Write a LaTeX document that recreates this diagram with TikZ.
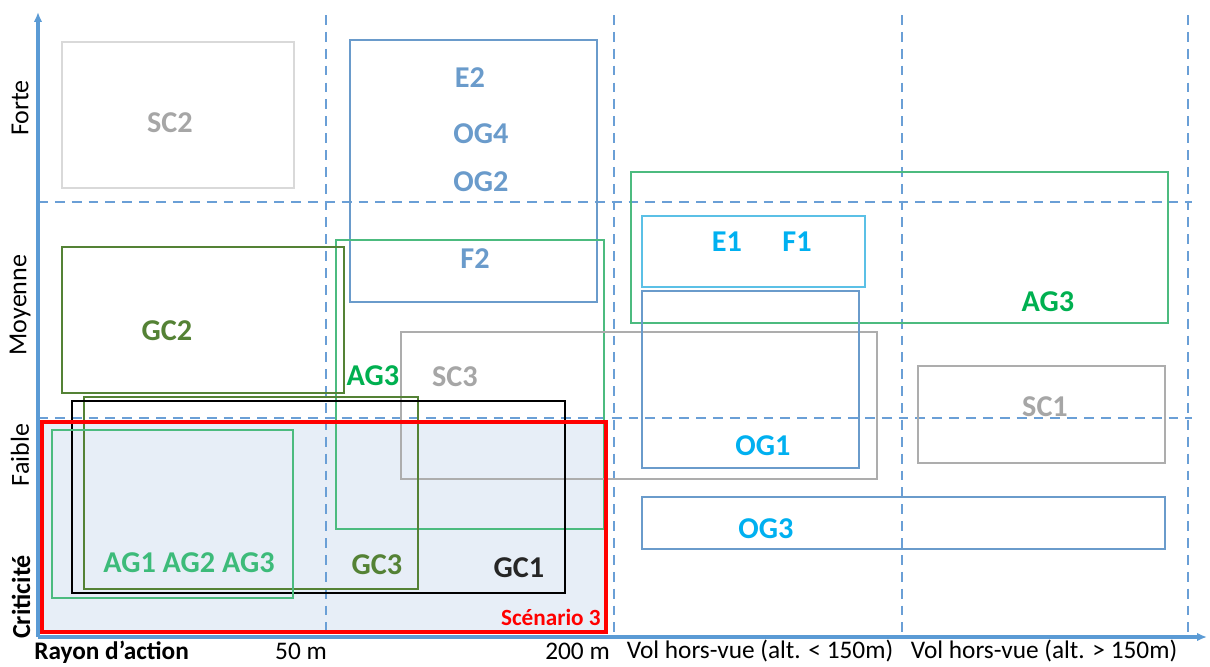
\documentclass[tikz,border=0pt]{standalone}
\usepackage{fontspec}
\setmainfont{Carlito}
\usetikzlibrary{arrows.meta}
\definecolor{AxisBlue}{HTML}{5B9BD5}
\definecolor{GridBlue}{HTML}{6A9FD6}
\definecolor{BoxBlue}{HTML}{6A9BCB}
\definecolor{SkyBlue}{HTML}{00B0F0}
\definecolor{SkyLine}{HTML}{5BC0E6}
\definecolor{LightGrey}{HTML}{D9D9D9}
\definecolor{MidGrey}{HTML}{ADADAD}
\definecolor{TextGrey}{HTML}{A6A6A6}
\definecolor{Olive}{HTML}{548235}
\definecolor{Mint}{HTML}{4CBB7F}
\definecolor{MintText}{HTML}{3DBB7A}
\definecolor{Leaf}{HTML}{00B050}
\definecolor{ScenRed}{HTML}{FF0000}
\definecolor{ScenFill}{HTML}{E7EEF7}
\tikzset{
  zone/.style={line width=1.3pt},
  grid/.style={GridBlue,line width=1.3pt,dash pattern=on 7pt off 5pt},
  axis/.style={AxisBlue,line width=2.2pt,-{Latex[length=7pt,width=6pt]}},
  lab/.style={font=\fontsize{21.5pt}{24pt}\selectfont\bfseries,inner sep=0pt},
  ylab/.style={font=\fontsize{18.5pt}{20pt}\selectfont,rotate=90,inner sep=0pt},
  xlab/.style={font=\fontsize{18pt}{20pt}\selectfont,inner sep=0pt}
}
\begin{document}
\begin{tikzpicture}[x=0.025cm,y=-0.025cm]
  \useasboundingbox (0,0) rectangle (1210,666);
  % scenario 3 background
  \fill[ScenFill] (42,422) rectangle (606,632);
  % grid
  \foreach \x in {326,614,902,1188}{
    \draw[grid] (\x,15)--(\x,637);
  }
  \foreach \y in {202,418}{
    \draw[grid] (38,\y)--(1192,\y);
  }
  % boxes, top-left
  \draw[zone,LightGrey] (62,42) rectangle (294,188);
  \node[lab,text=TextGrey] (sc2) at (170,123) {SC2};
  \draw[zone,BoxBlue] (350,40) rectangle (597,302);
  \node[lab,text=BoxBlue] (e2) at (470,78) {E2};
  \node[lab,text=BoxBlue] (og4) at (481,134) {OG4};
  \node[lab,text=BoxBlue] (og2) at (481,182) {OG2};
  \node[lab,text=BoxBlue] (f2) at (475,259) {F2};
  \draw[zone,Mint] (336,240) rectangle (604,529);
  \node[lab,text=Leaf] (ag3b) at (373,376) {AG3};
  \draw[zone,Olive] (62,247) rectangle (344,393);
  \node[lab,text=Olive] (gc2) at (167,331) {GC2};
  \draw[zone,MidGrey] (401,332) rectangle (877,479);
  \node[lab,text=TextGrey] (sc3) at (455,377) {SC3};
  % boxes, bottom-left
  \draw[zone,Olive] (84,397) rectangle (418,589);
  \node[lab,text=Olive] (gc3) at (377,565) {GC3};
  \draw[zone,black] (72,401) rectangle (565,593);
  \node[lab,text=black!85] (gc1) at (519,568) {GC1};
  \draw[zone,Mint] (52,430) rectangle (293,598);
  \node[lab,text=MintText] (ag123) at (189,563) {AG1 AG2 AG3};
  % boxes, right
  \draw[zone,Mint] (631,172) rectangle (1168,323);
  \node[lab,text=Leaf] (ag3a) at (1048,302) {AG3};
  \draw[zone,SkyLine] (642,216) rectangle (865,287);
  \node[lab,text=SkyBlue] (e1) at (727,242) {E1};
  \node[lab,text=SkyBlue] (f1) at (797,242) {F1};
  \draw[zone,BoxBlue] (642,291) rectangle (859,468);
  \node[lab,text=SkyBlue] (og1) at (763,446) {OG1};
  \draw[zone,MidGrey] (918,366) rectangle (1165,463);
  \node[lab,text=TextGrey] (sc1) at (1045,407) {SC1};
  \draw[zone,BoxBlue] (642,497) rectangle (1165,549);
  \node[lab,text=SkyBlue] (og3) at (766,529) {OG3};
  % scenario 3
  \draw[ScenRed,line width=2.8pt] (42,422) rectangle (606,632);
  \node[font=\fontsize{16.5pt}{18pt}\selectfont\bfseries,text=ScenRed,inner sep=0pt,anchor=east] (scen) at (601,617) {Scénario 3};
  % axes
  \draw[axis] (38,637)--(38,12);
  \draw[axis] (38,637)--(1207,637);
  \node[ylab] (forte) at (20,108) {Forte};
  \node[ylab] (moy) at (20,305) {Moyenne};
  \node[ylab] (faible) at (20,455) {Faible};
  \node[ylab,font=\fontsize{18.5pt}{20pt}\selectfont\bfseries] (crit) at (21,597) {Criticité};
  \node[xlab,font=\fontsize{18pt}{20pt}\selectfont\bfseries,anchor=west] (rayon) at (34,652) {Rayon d’action};
  \node[xlab] (m50) at (301,651) {50 m};
  \node[xlab,anchor=east] (m200) at (610,651) {200 m};
  \node[xlab] (vol1) at (760,651) {Vol hors-vue (alt. < 150m)};
  \node[xlab] (vol2) at (1044,651) {Vol hors-vue (alt. > 150m)};
\end{tikzpicture}
\end{document}
